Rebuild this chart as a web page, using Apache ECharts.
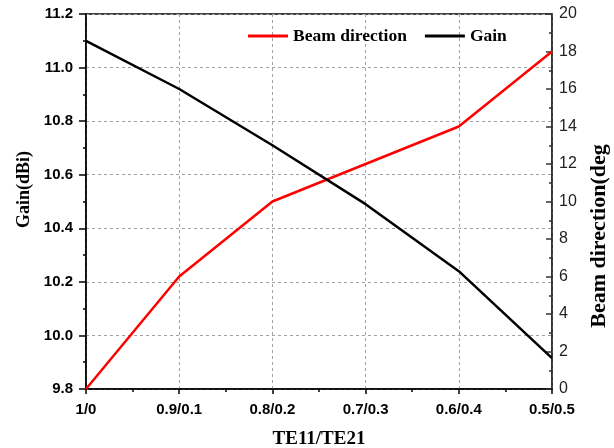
<!DOCTYPE html>
<html>
<head>
<meta charset="utf-8">
<script src="https://cdn.jsdelivr.net/npm/echarts@6/dist/echarts.min.js"></script>
<style>
  html, body { margin: 0; padding: 0; background: #fff; }
  #chart { width: 614px; height: 448px; }
</style>
</head>
<body>
<div id="chart"></div>
<script>
// TE11/TE21 mode ratio categories
const ratios = ['1/0', '0.9/0.1', '0.8/0.2', '0.7/0.3', '0.6/0.4', '0.5/0.5'];
// Gain in dBi (left axis)
const gainValues = [11.10, 10.92, 10.71, 10.49, 10.24, 9.915];
// Beam direction in degrees (right axis)
const beamValues = [0, 6, 10, 12, 14, 18];

const serif = '"Liberation Serif", "Times New Roman", serif';
const sans = '"Liberation Sans", Arial, sans-serif';

const toPairs = vals => vals.map((v, i) => [i, v]);

const chart = echarts.init(document.getElementById('chart'), null, { renderer: 'canvas' });

const gridLine = { show: true, lineStyle: { color: '#a0a0a0', type: [3, 3], width: 1 } };

chart.setOption({
  animation: false,
  backgroundColor: '#ffffff',
  grid: {
    left: 86, right: 62, top: 14, bottom: 59,
    containLabel: false,
    outerBoundsMode: 'none',
    show: true, borderColor: '#000', borderWidth: 1.5, backgroundColor: 'transparent'
  },
  legend: {
    left: 243, top: 22,
    icon: 'rect',
    itemWidth: 40, itemHeight: 3, itemGap: 18,
    textStyle: { fontFamily: serif, fontWeight: 'bold', fontSize: 17.5, color: '#000' },
    data: ['Beam direction', 'Gain']
  },
  xAxis: {
    type: 'value',
    min: 0, max: ratios.length - 1, interval: 1,
    name: 'TE11/TE21',
    nameLocation: 'middle',
    nameGap: 41,
    nameTextStyle: { fontFamily: serif, fontWeight: 'bold', fontSize: 19, color: '#000' },
    axisLine: { lineStyle: { color: '#000', width: 1.5 } },
    axisTick: { show: true, inside: false, length: 5, lineStyle: { color: '#000', width: 1.5 } },
    minorTick: { show: true, splitNumber: 2, length: 3, lineStyle: { color: '#000', width: 1.5 } },
    axisLabel: {
      margin: 13,
      fontFamily: sans, fontWeight: 'bold', fontSize: 15, color: '#000',
      formatter: v => ratios[Math.round(v)]
    },
    splitLine: gridLine
  },
  yAxis: [
    {
      type: 'value',
      position: 'left',
      min: 9.8, max: 11.2, interval: 0.2,
      name: 'Gain(dBi)',
      nameLocation: 'middle',
      nameRotate: 90,
      nameGap: 48,
      nameTextStyle: {
        fontFamily: serif, fontWeight: 'bold', fontSize: 18, color: '#000',
        padding: [0, 0, 0, 24]
      },
      axisLine: { show: true, lineStyle: { color: '#000', width: 1.5 } },
      axisTick: { show: true, inside: false, length: 7, lineStyle: { color: '#000', width: 1.5 } },
      minorTick: { show: true, splitNumber: 2, length: 3, lineStyle: { color: '#000', width: 1.5 } },
      axisLabel: {
        margin: 13,
        fontFamily: sans, fontWeight: 'bold', fontSize: 15, color: '#000',
        formatter: v => v.toFixed(1)
      },
      splitLine: gridLine
    },
    {
      type: 'value',
      position: 'right',
      min: 0, max: 20, interval: 2,
      name: 'Beam direction(deg',
      nameLocation: 'middle',
      nameRotate: 90,
      nameGap: 36,
      nameTextStyle: {
        fontFamily: serif, fontWeight: 'bold', fontSize: 22, color: '#000',
        padding: [0, 69, 0, 0]
      },
      axisLine: { show: true, lineStyle: { color: '#333', width: 1.5 } },
      axisTick: { show: true, inside: true, length: 6, lineStyle: { color: '#333', width: 1.5 } },
      minorTick: { show: true, splitNumber: 2, length: 3, lineStyle: { color: '#333', width: 1.5 } },
      axisLabel: {
        margin: 7,
        fontFamily: sans, fontSize: 16, color: '#222'
      },
      splitLine: { show: false }
    }
  ],
  series: [
    {
      name: 'Beam direction',
      type: 'line',
      yAxisIndex: 1,
      data: toPairs(beamValues),
      symbol: 'none',
      showSymbol: false,
      color: '#ff0000',
      lineStyle: { color: '#ff0000', width: 2.5 }
    },
    {
      name: 'Gain',
      type: 'line',
      yAxisIndex: 0,
      data: toPairs(gainValues),
      symbol: 'none',
      showSymbol: false,
      color: '#000000',
      lineStyle: { color: '#000000', width: 2.5 }
    }
  ]
});
</script>
</body>
</html>
